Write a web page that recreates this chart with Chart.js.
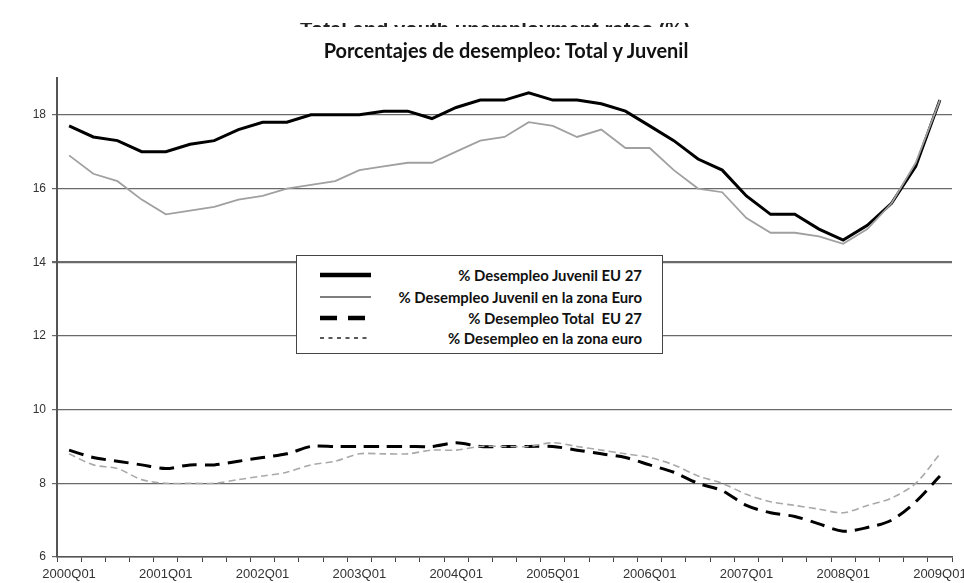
<!DOCTYPE html>
<html><head><meta charset="utf-8">
<script src="https://cdn.jsdelivr.net/npm/chart.js@4.4.1/dist/chart.umd.min.js"></script>
<style>
html,body{margin:0;padding:0;background:#fff;}
#wrap{position:relative;width:964px;height:583px;overflow:hidden;background:#fff;}
#c{position:absolute;left:0;top:0;}
#cut{position:absolute;left:0;width:964px;top:23px;height:4px;overflow:hidden;}
#cut span{position:absolute;left:495px;transform:translateX(-50%);white-space:nowrap;font-family:"Liberation Sans",Arial,sans-serif;font-weight:bold;line-height:16px;top:-2px;color:#222;}
#title{position:absolute;top:41px;left:506px;transform:translateX(-50%);white-space:nowrap;font-family:Lato,"Open Sans",sans-serif;font-weight:bold;color:#111;line-height:1;}
#legend{position:absolute;left:296px;top:255px;width:365px;height:97px;border:1.5px solid #444;background:#fff;}
.row{position:absolute;left:0;right:0;height:20px;}
.row svg{position:absolute;left:23px;top:0;}
.row span{position:absolute;right:20px;top:0;height:20px;line-height:20px;white-space:pre;font-family:Lato,"Open Sans",sans-serif;font-weight:bold;color:#111;}
</style>
</head><body>
<div id="wrap">
<canvas id="c" width="964" height="583"></canvas>
<div id="cut"><span id="cutText">Total and youth unemployment rates (%)</span></div>
<div id="title">Porcentajes de desempleo: Total y Juvenil</div>
<div id="legend"></div>
</div>
<script>
const quarters = ["2000Q01","2000Q02","2000Q03","2000Q04","2001Q01","2001Q02","2001Q03","2001Q04",
"2002Q01","2002Q02","2002Q03","2002Q04","2003Q01","2003Q02","2003Q03","2003Q04",
"2004Q01","2004Q02","2004Q03","2004Q04","2005Q01","2005Q02","2005Q03","2005Q04",
"2006Q01","2006Q02","2006Q03","2006Q04","2007Q01","2007Q02","2007Q03","2007Q04",
"2008Q01","2008Q02","2008Q03","2008Q04","2009Q01"];

const seriesNames = ["% Desempleo Juvenil EU 27","% Desempleo Juvenil en la zona Euro","% Desempleo Total  EU 27","% Desempleo en la zona euro"];

const juvenilEU27 = [17.7,17.4,17.3,17.0,17.0,17.2,17.3,17.6,17.8,17.8,18.0,18.0,18.0,18.1,18.1,17.9,18.2,18.4,18.4,18.6,18.4,18.4,18.3,18.1,17.7,17.3,16.8,16.5,15.8,15.3,15.3,14.9,14.6,15.0,15.6,16.6,18.4];
const juvenilEuro = [16.9,16.4,16.2,15.7,15.3,15.4,15.5,15.7,15.8,16.0,16.1,16.2,16.5,16.6,16.7,16.7,17.0,17.3,17.4,17.8,17.7,17.4,17.6,17.1,17.1,16.5,16.0,15.9,15.2,14.8,14.8,14.7,14.5,14.9,15.6,16.7,18.4];
const totalEU27 = [8.9,8.7,8.6,8.5,8.4,8.5,8.5,8.6,8.7,8.8,9.0,9.0,9.0,9.0,9.0,9.0,9.1,9.0,9.0,9.0,9.0,8.9,8.8,8.7,8.5,8.3,8.0,7.8,7.4,7.2,7.1,6.9,6.7,6.8,7.0,7.5,8.2];
const euroTotal = [8.8,8.5,8.4,8.1,8.0,8.0,8.0,8.1,8.2,8.3,8.5,8.6,8.8,8.8,8.8,8.9,8.9,9.0,9.0,9.0,9.1,9.0,8.9,8.8,8.7,8.5,8.2,8.0,7.7,7.5,7.4,7.3,7.2,7.4,7.6,8.0,8.8];

const yTicks = [6,8,10,12,14,16,18];

// font fitting helper
const mctx = document.createElement('canvas').getContext('2d');
function fit(el, text, family, weight, target){
  mctx.font = weight + ' 100px ' + family;
  const w = mctx.measureText(text).width;
  el.style.fontSize = (100*target/w).toFixed(2) + 'px';
}
fit(document.getElementById('title'), document.getElementById('title').textContent, 'Lato', 'bold', 367);
fit(document.getElementById('cutText'), document.getElementById('cutText').textContent, '"Liberation Sans"', 'bold', 390);

// legend
const legendStyles = [
  {w:4.5, dash:'', color:'#000'},
  {w:1.2, dash:'', color:'#000'},
  {w:4.5, dash:'17 11', color:'#000'},
  {w:1.3, dash:'4 4.5', color:'#222'}
];
const rowCenters = [19, 41, 62, 82];
const leg = document.getElementById('legend');
mctx.font = 'bold 100px Lato';
const legSize = 100*244/mctx.measureText(seriesNames[1]).width;
seriesNames.forEach((n,i)=>{
  const r = document.createElement('div');
  r.className='row';
  r.style.top = (rowCenters[i]-10)+'px';
  const s = legendStyles[i];
  r.innerHTML = '<svg width="52" height="20"><line x1="0" y1="10" x2="51" y2="10" stroke="'+s.color+'" stroke-width="'+s.w+'" stroke-dasharray="'+s.dash+'"/></svg>';
  const sp = document.createElement('span');
  sp.textContent = n;
  sp.style.fontSize = legSize.toFixed(2)+'px';
  r.appendChild(sp);
  leg.appendChild(r);
});

new Chart(document.getElementById('c').getContext('2d'), {
  type:'line',
  data:{labels:quarters, datasets:[
    {label:seriesNames[3], data:euroTotal, borderColor:'#a9a9a9', borderWidth:1.6, borderDash:[7,4], tension:0.3, pointRadius:0, fill:false},
    {label:seriesNames[2], data:totalEU27, borderColor:'#000', borderWidth:3, borderDash:[15,8], tension:0.3, pointRadius:0, fill:false},
    {label:seriesNames[1], data:juvenilEuro, borderColor:'#a0a0a0', borderWidth:1.8, tension:0, pointRadius:0, fill:false},
    {label:seriesNames[0], data:juvenilEU27, borderColor:'#000', borderWidth:3, tension:0, pointRadius:0, fill:false}
  ]},
  options:{
    responsive:false, animation:false, devicePixelRatio:1,
    layout:{padding:{top:78,right:12,left:0,bottom:0}},
    plugins:{legend:{display:false}, title:{display:false}, tooltip:{enabled:false}},
    scales:{
      x:{type:'category', offset:true,
        grid:{offset:true, drawOnChartArea:false, drawTicks:true, tickLength:5, color:'#444', lineWidth:1},
        border:{display:true, color:'#555', width:1.5},
        ticks:{autoSkip:false, maxRotation:0, minRotation:0, padding:5, color:'#333',
          font:{family:'"Liberation Sans", Arial, sans-serif', size:13},
          callback:(v,i)=> quarters[i].endsWith('Q01') ? quarters[i] : ''},
        afterFit:s=>{s.height=26; s.paddingLeft=0; s.paddingRight=0;}
      },
      y:{min:6, max:19,
        afterBuildTicks:s=>{ s.ticks = yTicks.map(v=>({value:v})); },
        ticks:{padding:6, color:'#333', font:{family:'"Liberation Sans", Arial, sans-serif', size:12}},
        grid:{color:'#6a6a6a', lineWidth:c=> (c.tick && c.tick.value===14) ? 2.2 : 1.2, drawTicks:true, tickLength:5},
        border:{display:true, color:'#555', width:2},
        afterFit:s=>{s.width=57; s.paddingTop=0; s.paddingBottom=0;}
      }
    }
  }
});
</script>
</body></html>
